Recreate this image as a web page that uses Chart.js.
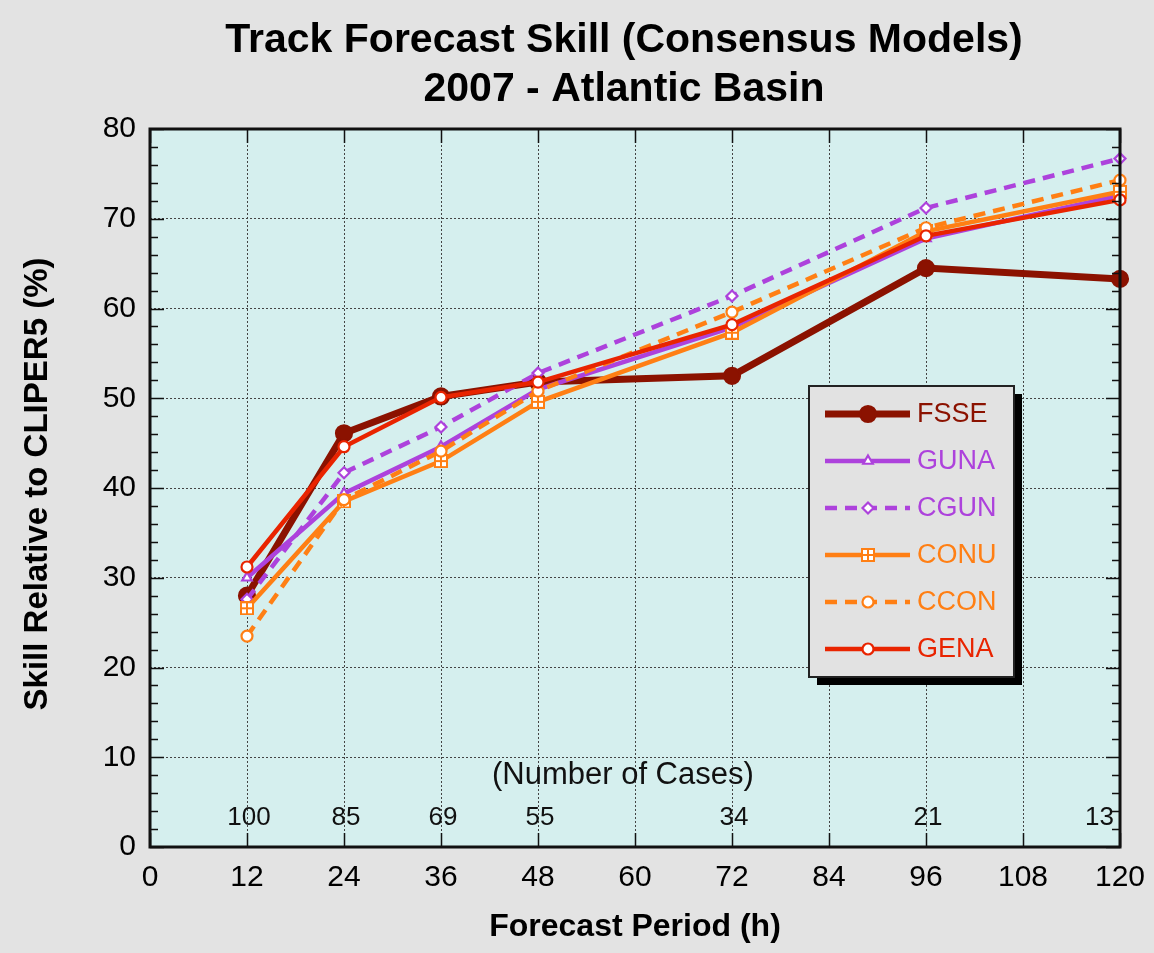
<!DOCTYPE html>
<html>
<head>
<meta charset="utf-8">
<script src="https://cdn.jsdelivr.net/npm/chart.js@4.4.0/dist/chart.umd.min.js"></script>
<style>
  html, body { margin: 0; padding: 0; background: #e3e3e3; }
  #wrap { width: 1154px; height: 953px; }
</style>
</head>
<body>
<div id="wrap"><canvas id="chart" width="1154" height="953"></canvas></div>
<script>
// values (skill % vs forecast hour)
const hours = [12, 24, 36, 48, 72, 96, 120];
const cases = [100, 85, 69, 55, 34, 21, 13];
const fsse = [28.0, 46.1, 50.2, 51.8, 52.5, 64.5, 63.3];
const guna = [30.0, 39.4, 44.6, 51.0, 57.9, 67.8, 72.6];
const cgun = [27.6, 41.7, 46.8, 52.8, 61.4, 71.2, 76.7];
const conu = [26.6, 38.5, 43.0, 49.6, 57.3, 68.6, 73.0];
const ccon = [23.5, 38.7, 44.1, 50.8, 59.6, 69.0, 74.3];
const gena = [31.2, 44.6, 50.1, 51.8, 58.2, 68.1, 72.1];
const xTicks = [0, 12, 24, 36, 48, 60, 72, 84, 96, 108, 120];
const yTicks = [0, 10, 20, 30, 40, 50, 60, 70, 80];

const FONT = '"Liberation Sans", Arial, sans-serif';
const DARKRED = "#8b1200", PURPLE = "#ad42dc", ORANGE = "#ff7f14", RED = "#e92400";

// square with a cross for CONU
function gridSquare() {
  const c = document.createElement("canvas");
  c.width = 14; c.height = 14;
  const g = c.getContext("2d");
  g.fillStyle = "#fff"; g.fillRect(1, 1, 12, 12);
  g.strokeStyle = ORANGE; g.lineWidth = 2;
  g.strokeRect(1, 1, 12, 12);
  g.beginPath(); g.moveTo(7, 1); g.lineTo(7, 13); g.moveTo(1, 7); g.lineTo(13, 7); g.stroke();
  return c;
}

function pts(arr) { return hours.map((h, i) => ({ x: h, y: arr[i] })); }

function series(label, arr, color, opts) {
  return Object.assign({
    label, data: pts(arr), borderColor: color, pointBorderColor: color,
    pointBackgroundColor: "#fff", borderWidth: 4.5, pointRadius: 5.5, pointBorderWidth: 2.2,
    pointHoverRadius: 5.5, tension: 0, clip: false
  }, opts);
}

const datasets = [
  series("FSSE", fsse, DARKRED, { borderWidth: 7, pointRadius: 8, pointBackgroundColor: DARKRED, order: 5 }),
  series("GUNA", guna, PURPLE, { pointStyle: "triangle", order: 4 }),
  series("CGUN", cgun, PURPLE, { pointStyle: "rectRot", borderDash: [12, 8], order: 3 }),
  series("CONU", conu, ORANGE, { pointStyle: gridSquare(), order: 2 }),
  series("CCON", ccon, ORANGE, { borderDash: [12, 8], order: 1 }),
  series("GENA", gena, RED, { order: 0 })
];

const decor = {
  id: "decor",
  beforeDraw(chart) {
    const { ctx, chartArea: a } = chart;
    ctx.save();
    ctx.fillStyle = "#e3e3e3";
    ctx.fillRect(0, 0, chart.width, chart.height);
    ctx.fillStyle = "#d5efee";
    ctx.fillRect(a.left, a.top, a.right - a.left, a.bottom - a.top);
    ctx.restore();
  },
  beforeDatasetsDraw(chart) {
    const { ctx, chartArea: a, scales: { x, y } } = chart;
    ctx.save();
    ctx.fillStyle = "#111";
    ctx.textBaseline = "middle";
    ctx.font = "26px " + FONT;
    hours.forEach((h, i) => {
      const last = i === hours.length - 1;
      ctx.textAlign = last ? "right" : "center";
      ctx.fillText(String(cases[i]), last ? a.right - 6 : x.getPixelForValue(h) + 2, y.getPixelForValue(3.2));
    });
    ctx.textAlign = "center";
    ctx.font = "31px " + FONT;
    ctx.fillText("(Number of Cases)", x.getPixelForValue(58.5), y.getPixelForValue(8));
    ctx.restore();
  },
  afterDraw(chart) {
    const { ctx, chartArea: a, scales: { x, y } } = chart;
    ctx.save();
    // ticks
    ctx.strokeStyle = "#111"; ctx.lineWidth = 1.5;
    ctx.beginPath();
    for (let v = 0; v <= 80; v += 2) {
      const py = Math.round(y.getPixelForValue(v)) + 0.5;
      const len = v % 10 === 0 ? 14 : 8;
      ctx.moveTo(a.left, py); ctx.lineTo(a.left + len, py);
      ctx.moveTo(a.right, py); ctx.lineTo(a.right - len, py);
    }
    xTicks.forEach(v => {
      const px = Math.round(x.getPixelForValue(v)) + 0.5;
      ctx.moveTo(px, a.bottom); ctx.lineTo(px, a.bottom - 14);
      ctx.moveTo(px, a.top); ctx.lineTo(px, a.top + 14);
    });
    ctx.stroke();
    // frame
    ctx.strokeStyle = "#111"; ctx.lineWidth = 3;
    ctx.strokeRect(a.left, a.top, a.right - a.left, a.bottom - a.top);

    // titles
    ctx.fillStyle = "#000";
    ctx.textAlign = "center"; ctx.textBaseline = "middle";
    ctx.font = "bold 41px " + FONT;
    ctx.fillText("Track Forecast Skill (Consensus Models)", 624, 41);
    ctx.fillText("2007 - Atlantic Basin", 624, 90);
    ctx.font = "bold 32px " + FONT;
    ctx.fillText("Forecast Period (h)", 635, 927);
    ctx.save();
    ctx.translate(38, 484); ctx.rotate(-Math.PI / 2);
    ctx.font = "bold 33px " + FONT;
    ctx.fillText("Skill Relative to CLIPER5 (%)", 0, 0);
    ctx.restore();

    // legend box
    const lx = 809, ly = 386, lw = 205, lh = 291;
    ctx.fillStyle = "#000"; ctx.fillRect(lx + 8, ly + 8, lw, lh);
    ctx.fillStyle = "#e2e2e2"; ctx.fillRect(lx, ly, lw, lh);
    ctx.strokeStyle = "#222"; ctx.lineWidth = 2; ctx.strokeRect(lx, ly, lw, lh);
    ctx.textAlign = "left";
    ctx.font = "27px " + FONT;
    chart.data.datasets.forEach((ds, i) => {
      const ry = 414 + i * 47;
      ctx.strokeStyle = ds.borderColor;
      ctx.lineWidth = ds.borderWidth;
      ctx.setLineDash(ds.borderDash || []);
      ctx.beginPath(); ctx.moveTo(825, ry); ctx.lineTo(910, ry); ctx.stroke();
      ctx.setLineDash([]);
      ctx.fillStyle = ds.pointBackgroundColor;
      ctx.strokeStyle = ds.pointBorderColor;
      ctx.lineWidth = ds.pointBorderWidth;
      Chart.helpers.drawPoint(ctx, { pointStyle: ds.pointStyle || "circle", radius: ds.pointRadius, rotation: 0, borderWidth: ds.pointBorderWidth }, 868, ry);
      ctx.fillStyle = ds.borderColor;
      ctx.fillText(ds.label, 917, ry + 1);
    });
    ctx.restore();
  }
};

new Chart(document.getElementById("chart"), {
  type: "line",
  data: { datasets },
  plugins: [decor],
  options: {
    responsive: false,
    devicePixelRatio: 1,
    animation: false,
    layout: { padding: { top: 129, right: 34, left: 0, bottom: 0 } },
    plugins: { legend: { display: false }, title: { display: false }, tooltip: { enabled: false } },
    scales: {
      x: {
        type: "linear", min: 0, max: 120,
        afterBuildTicks: s => { s.ticks = xTicks.map(v => ({ value: v })); },
        afterFit: s => { s.height = 106; s.paddingLeft = 0; s.paddingRight = 0; },
        grid: { color: "#444", lineWidth: 1, drawTicks: false, tickLength: 0 },
        border: { display: false, dash: [2, 2] },
        ticks: { color: "#000", font: { size: 30, family: FONT }, padding: 13, maxRotation: 0, autoSkip: false }
      },
      y: {
        min: 0, max: 80,
        afterBuildTicks: s => { s.ticks = yTicks.map(v => ({ value: v })); },
        afterFit: s => { s.width = 150; s.paddingTop = 0; s.paddingBottom = 0; },
        grid: { color: "#444", lineWidth: 1, drawTicks: false, tickLength: 0 },
        border: { display: false, dash: [2, 2] },
        ticks: { color: "#000", font: { size: 30, family: FONT }, padding: 14 }
      }
    }
  }
});
</script>
</body>
</html>
